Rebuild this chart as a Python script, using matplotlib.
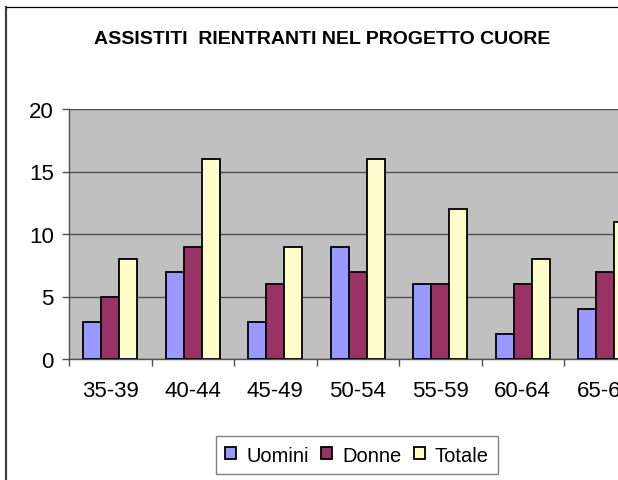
import matplotlib
matplotlib.use("Agg")
import matplotlib.pyplot as plt
from matplotlib.lines import Line2D
import numpy as np

plt.rcParams['font.family'] = ['Liberation Sans', 'DejaVu Sans']

fasce = ['35-39', '40-44', '45-49', '50-54', '55-59', '60-64', '65-69']
uomini = [3, 7, 3, 9, 6, 2, 4]
donne = [5, 9, 6, 7, 6, 6, 7]
totale = [8, 16, 9, 16, 12, 8, 11]

W, H = 618, 481
fig = plt.figure(figsize=(W / 100, H / 100), dpi=100)

# area del grafico: sborda a destra come nell'originale
cat_w = 82.5
ax = fig.add_axes([69 / W, (H - 360) / H, len(fasce) * cat_w / W, 250 / H])
ax.set_facecolor('#C0C0C0')

x = np.arange(len(fasce))
bw = 0.218
ax.bar(x - bw, uomini, bw, color='#9999FF', edgecolor='black', linewidth=1.3, label='Uomini', zorder=3)
ax.bar(x, donne, bw, color='#993366', edgecolor='black', linewidth=1.3, label='Donne', zorder=3)
ax.bar(x + bw, totale, bw, color='#FFFFCC', edgecolor='black', linewidth=1.3, label='Totale', zorder=3)

ax.set_xlim(-0.5, len(fasce) - 0.5)
ax.set_ylim(0, 20)
ax.set_yticks([0, 5, 10, 15, 20])
ax.yaxis.grid(True, color='#505050', linewidth=1, zorder=1)

ax.set_xticks(x)
ax.set_xticklabels(fasce)
ax.set_xticks(np.arange(len(fasce) + 1) - 0.5, minor=True)
ax.tick_params(axis='x', which='major', length=0, pad=15, labelsize=16)
ax.tick_params(axis='x', which='minor', length=5, width=1, color='#505050')
ax.tick_params(axis='y', length=5, width=1, color='#505050', pad=6, labelsize=16)

for s in ['top', 'right']:
    ax.spines[s].set_visible(False)
for s in ['left', 'bottom']:
    ax.spines[s].set_color('#505050')
    ax.spines[s].set_linewidth(1)

fig.text(322 / W, 1 - 39 / H, 'ASSISTITI  RIENTRANTI NEL PROGETTO CUORE',
         ha='center', va='center', fontsize=14, fontweight='bold')

leg = fig.legend(loc='center', bbox_to_anchor=(357 / W, 1 - 456 / H), ncol=3,
                 fontsize=14.5, frameon=True, fancybox=False, shadow=False,
                 handlelength=0.55, handleheight=0.55, handletextpad=0.5,
                 columnspacing=0.6, borderpad=0.45)
leg.get_frame().set_edgecolor('#606060')
leg.get_frame().set_linewidth(1)

# cornice del grafico
fig.add_artist(Line2D([6 / W, 6 / W], [0, 1 - 8 / H], color='#404040', linewidth=1.6))
fig.add_artist(Line2D([6 / W, 1], [1 - 8 / H, 1 - 8 / H], color='black', linewidth=0.9))

fig.savefig('out.png', dpi=100)
